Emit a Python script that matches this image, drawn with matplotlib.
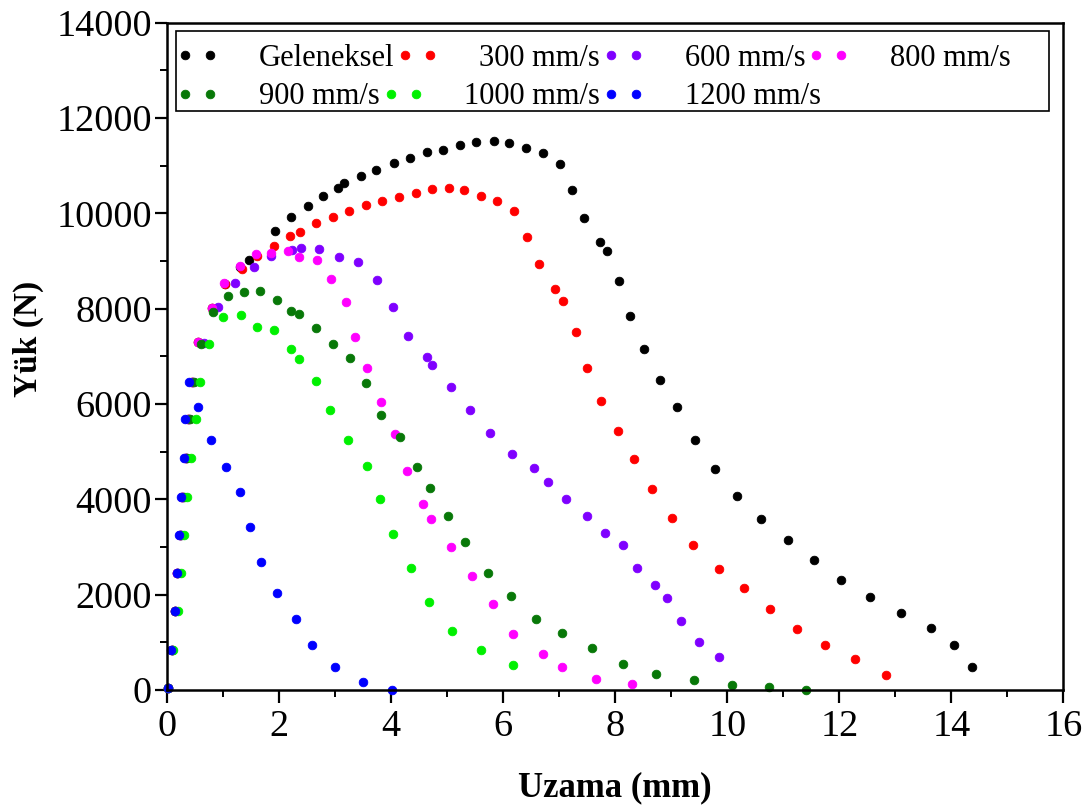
import matplotlib
matplotlib.use("Agg")
import matplotlib.pyplot as plt
from matplotlib.patches import Rectangle

# Load (N) vs elongation (mm) for each printing speed
geleneksel_x = [0.02, 0.08, 0.13, 0.17, 0.23, 0.27, 0.33, 0.37, 0.44, 0.55, 0.79, 1.03, 1.30, 1.45,
                1.92, 2.21, 2.51, 2.78, 3.04, 3.16, 3.45, 3.73, 4.04, 4.33, 4.64, 4.92, 5.23, 5.51,
                5.83, 6.10, 6.41, 6.71, 7.01, 7.22, 7.44, 7.73, 7.85, 8.07, 8.26, 8.51, 8.80, 9.11,
                9.42, 9.78, 10.17, 10.60, 11.09, 11.54, 12.03, 12.54, 13.10, 13.63, 14.05, 14.37]
geleneksel_y = [40, 840, 1660, 2460, 3260, 4060, 4870, 5690, 6470, 7310, 8010, 8520, 8880, 9020,
                9630, 9920, 10150, 10360, 10540, 10630, 10780, 10920, 11050, 11160, 11280, 11340,
                11430, 11490, 11520, 11480, 11370, 11260, 11040, 10500, 9900, 9390, 9210, 8580,
                7850, 7150, 6500, 5930, 5250, 4640, 4070, 3580, 3150, 2730, 2310, 1960, 1620,
                1310, 940, 480]

v300_x = [0.02, 0.08, 0.13, 0.17, 0.23, 0.27, 0.33, 0.37, 0.44, 0.55, 0.79, 1.03, 1.33, 1.61,
          1.91, 2.19, 2.37, 2.66, 2.95, 3.25, 3.54, 3.84, 4.14, 4.44, 4.72, 5.03, 5.29, 5.60,
          5.89, 6.19, 6.43, 6.64, 6.92, 7.06, 7.30, 7.50, 7.74, 8.04, 8.34, 8.65, 9.01, 9.39,
          9.85, 10.30, 10.76, 11.24, 11.75, 12.28, 12.83]
v300_y = [40, 840, 1660, 2460, 3260, 4060, 4870, 5690, 6470, 7310, 8010, 8520, 8830, 9110,
          9320, 9530, 9620, 9790, 9930, 10060, 10170, 10270, 10350, 10430, 10510, 10530, 10490,
          10360, 10270, 10050, 9500, 8930, 8410, 8170, 7510, 6750, 6070, 5430, 4850, 4210,
          3600, 3040, 2530, 2150, 1690, 1290, 940, 640, 310]

v600_x = [0.02, 0.08, 0.13, 0.18, 0.24, 0.28, 0.33, 0.39, 0.46, 0.66, 0.91, 1.20, 1.54, 1.85,
          2.22, 2.38, 2.71, 3.07, 3.41, 3.75, 4.03, 4.30, 4.63, 4.73, 5.06, 5.40, 5.76, 6.15,
          6.54, 6.80, 7.12, 7.50, 7.82, 8.14, 8.38, 8.70, 8.93, 9.17, 9.50, 9.86]
v600_y = [40, 840, 1660, 2460, 3260, 4060, 4870, 5690, 6470, 7290, 8040, 8530, 8880, 9110,
          9230, 9280, 9260, 9090, 8990, 8600, 8030, 7430, 6990, 6820, 6350, 5880, 5390, 4950,
          4650, 4360, 4010, 3660, 3300, 3050, 2550, 2200, 1920, 1450, 1010, 690]

v800_x = [0.02, 0.08, 0.13, 0.18, 0.22, 0.27, 0.32, 0.38, 0.44, 0.55, 0.79, 1.02, 1.30, 1.58,
          1.85, 2.15, 2.36, 2.67, 2.92, 3.19, 3.35, 3.57, 3.82, 4.07, 4.28, 4.56, 4.70, 5.06,
          5.44, 5.81, 6.18, 6.71, 7.05, 7.66, 8.30]
v800_y = [40, 840, 1660, 2460, 3260, 4060, 4870, 5690, 6470, 7310, 8010, 8550, 8900, 9140,
          9180, 9210, 9090, 9020, 8620, 8150, 7400, 6750, 6050, 5370, 4600, 3900, 3590, 3010,
          2400, 1800, 1170, 750, 490, 240, 130]

v900_x = [0.02, 0.08, 0.14, 0.19, 0.24, 0.30, 0.35, 0.41, 0.48, 0.60, 0.82, 1.09, 1.37, 1.66,
          1.95, 2.21, 2.36, 2.66, 2.95, 3.26, 3.55, 3.81, 4.15, 4.46, 4.69, 5.01, 5.32, 5.72,
          6.14, 6.58, 7.04, 7.58, 8.13, 8.72, 9.41, 10.08, 10.75, 11.40]
v900_y = [40, 840, 1660, 2460, 3260, 4060, 4870, 5690, 6470, 7270, 7940, 8270, 8350, 8370,
          8180, 7960, 7900, 7590, 7250, 6960, 6450, 5780, 5310, 4670, 4240, 3650, 3110, 2460,
          1970, 1480, 1200, 890, 550, 340, 200, 110, 60, 0]

v1000_x = [0.02, 0.11, 0.19, 0.25, 0.29, 0.35, 0.42, 0.51, 0.58, 0.74, 1.00, 1.31, 1.61, 1.91,
           2.21, 2.35, 2.66, 2.91, 3.22, 3.57, 3.80, 4.03, 4.35, 4.67, 5.09, 5.60, 6.17]
v1000_y = [40, 840, 1660, 2460, 3260, 4060, 4870, 5690, 6470, 7260, 7830, 7870, 7620, 7550,
           7150, 6950, 6480, 5880, 5250, 4710, 4010, 3270, 2570, 1850, 1240, 830, 520]

v1200_x = [0.02, 0.07, 0.13, 0.17, 0.20, 0.24, 0.29, 0.32, 0.39, 0.54, 0.78, 1.05, 1.30, 1.48,
           1.67, 1.96, 2.29, 2.58, 2.99, 3.49, 4.01]
v1200_y = [40, 840, 1660, 2460, 3260, 4060, 4870, 5690, 6470, 5930, 5250, 4670, 4150, 3410,
           2680, 2040, 1480, 940, 480, 170, 0]

labels = ["Geleneksel", "300 mm/s", "600 mm/s", "800 mm/s",
          "900 mm/s", "1000 mm/s", "1200 mm/s"]
colors = ["#000000", "#ff0000", "#7f00ff", "#ff00ff", "#087808", "#00f000", "#0000ff"]
series_x = [geleneksel_x, v300_x, v600_x, v800_x, v900_x, v1000_x, v1200_x]
series_y = [geleneksel_y, v300_y, v600_y, v800_y, v900_y, v1000_y, v1200_y]

x_ticks = list(range(0, 17, 2))
y_ticks = list(range(0, 14001, 2000))

plt.rcParams["font.family"] = ["Liberation Serif", "DejaVu Serif"]

fig = plt.figure(figsize=(10.89, 8.11), dpi=100)
W, H = 1089, 811
ax = fig.add_axes([167.3 / W, 1 - 690 / H, (1063.3 - 167.3) / W, (690 - 22.8) / H])

MS = 6.2
handles = []
for xs, ys, c, lab in zip(series_x, series_y, colors, labels):
    h, = ax.plot(xs, ys, linestyle="none", marker="o", markersize=MS,
                 markerfacecolor=c, markeredgecolor=c, markeredgewidth=0.6,
                 label=lab, clip_on=False)
    handles.append(h)

ax.set_xlim(0, 16)
ax.set_ylim(0, 14000)
ax.set_xticks(x_ticks)
ax.set_yticks(y_ticks)
ax.set_xticks(range(0, 17), minor=True)
ax.set_yticks(range(0, 14001, 1000), minor=True)
ax.tick_params(axis="both", which="major", direction="out", length=9, width=1.6,
               labelsize=27.5, top=False, right=False)
ax.tick_params(axis="both", which="minor", direction="out", length=5, width=1.4,
               top=False, right=False)
ax.tick_params(axis="x", pad=5)
ax.tick_params(axis="y", pad=2)
for s in ax.spines.values():
    s.set_linewidth(1.8)

ax.set_xlabel("Uzama (mm)", fontsize=25, fontweight="bold")
ax.set_ylabel("Yük (N)", fontsize=24, fontweight="bold")
ax.xaxis.set_label_coords(0.5, -0.122)
ax.yaxis.set_label_coords(-0.138, 0.526)

# Legend: two flowing rows inside a single frame
fs = 22
frame = Rectangle((176 / W, 1 - 111 / H), (1049 - 176) / W, (111 - 31) / H,
                  transform=fig.transFigure, facecolor="white", edgecolor="black",
                  linewidth=1.2, zorder=4)
ax.add_patch(frame)
common = dict(frameon=False, numpoints=2, fontsize=fs, handlelength=1.42,
              handletextpad=1.3, columnspacing=0.05, borderpad=0, borderaxespad=0,
              loc="center left", bbox_transform=fig.transFigure)
leg1 = ax.legend(handles[:4], labels[:4], ncol=4,
                 bbox_to_anchor=(176 / W, 1 - 58 / H), **common)
ax.add_artist(leg1)
leg2 = ax.legend(handles[4:], labels[4:], ncol=3,
                 bbox_to_anchor=(176 / W, 1 - 97 / H), **common)
for lg in (leg1, leg2):
    lg.set_zorder(5)
    for lh in lg.legend_handles:
        lh.set_markersize(MS)

fig.savefig("out.png", dpi=100)
